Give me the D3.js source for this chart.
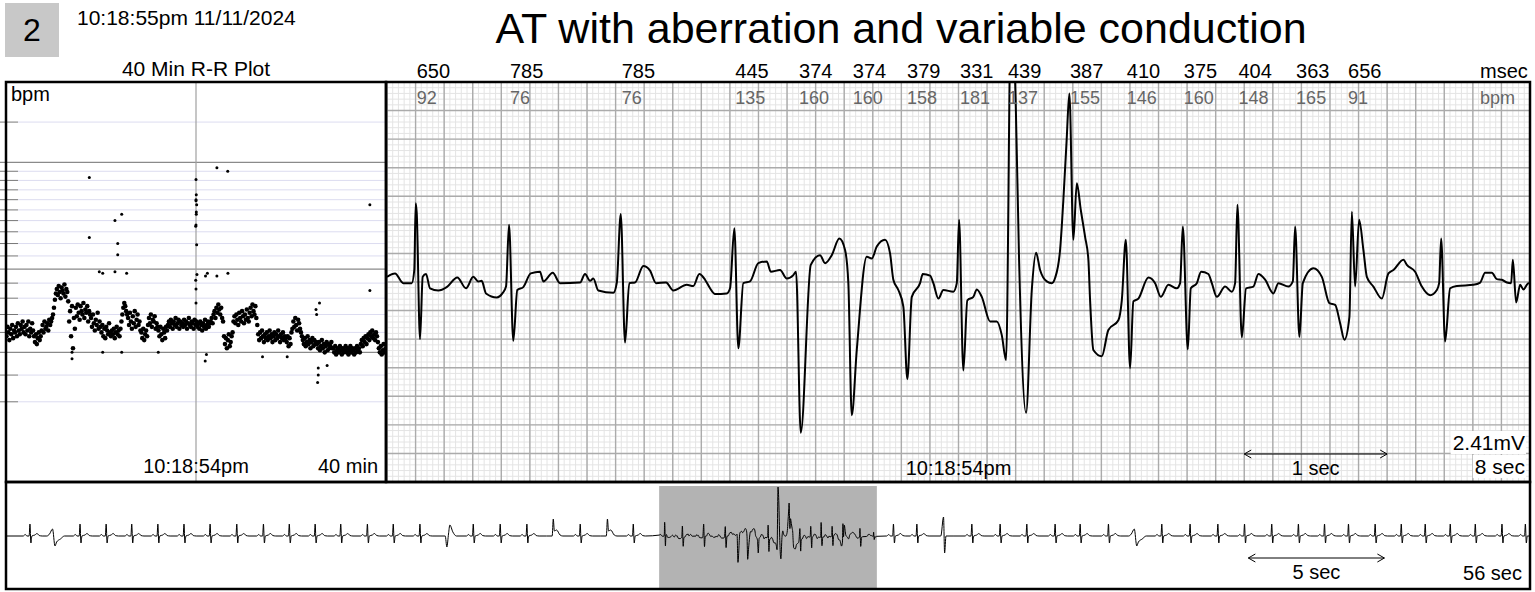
<!DOCTYPE html>
<html lang="en">
<head>
<meta charset="UTF-8">
<title>AT with aberration and variable conduction</title>
<style>
  * {padding:0; margin:0;}
  body {background:#fff;}
  svg {display:block; font-family:"Liberation Sans", Arial, sans-serif;}
  .minor {stroke:#e4e4e4; stroke-width:1px;}
  .major {stroke:#ababab; stroke-width:1.4px;}
  .frame {fill:none; stroke:#000; stroke-width:2.5px;}
  .trace {fill:none; stroke:#000; stroke-width:2px; stroke-linejoin:round;}
  .mini {fill:none; stroke:#000; stroke-width:1px;}
  .lbl {font-size:20px;}
  .bpmLbl {font-size:18px; fill:#666;}
</style>
</head>
<body>
<script src="https://d3js.org/d3.v7.min.js"></script>
<svg id="chart" width="1535" height="592"></svg>
<script>
// ---------- data ----------
var stripNo = "2";
var stampText = "10:18:55pm 11/11/2024";
var titleText = "AT with aberration and variable conduction";

// 8 sec strip: [time ms, amplitude mV]
var ecgTrace = [[0,0.09],[56,0.15],[114,-0.02],[173,-0.02],[191,0.21],[201,1.38],[208,1.21],[231,-1.00],[250,0.09],[273,0.14],
  [301,-0.11],[359,-0.15],[418,-0.09],[492,0.08],[553,-0.11],[604,0.09],[639,0.01],[663,0.02],[693,-0.20],[768,-0.27],
  [810,-0.19],[833,-0.08],[854,1.00],[884,-1.03],[912,-0.14],[954,-0.09],[1006,0.15],[1071,0.18],[1094,0.01],[1160,0.16],
  [1211,-0.02],[1351,-0.01],[1386,0.14],[1421,0.02],[1444,0.06],[1479,-0.15],[1584,-0.19],[1608,-0.02],[1636,1.19],[1666,-1.06],
  [1696,-0.02],[1736,-0.01],[1794,0.28],[1841,0.20],[1883,-0.02],[1953,-0.01],[2004,-0.15],[2098,-0.05],[2144,-0.07],[2186,0.14],
  [2226,0.04],[2261,-0.11],[2296,-0.21],[2378,-0.20],[2401,-0.11],[2431,0.94],[2459,-1.16],[2494,-0.02],[2541,0.01],[2599,0.33],
  [2658,0.36],[2686,0.18],[2751,0.21],[2798,0.06],[2844,0.12],[2863,0.18],[2896,-2.64],[2966,0.30],[3031,0.47],[3066,0.33],
  [3113,0.47],[3166,0.76],[3206,0.56],[3229,-0.02],[3253,-2.33],[3288,-1.19],[3358,0.44],[3393,0.41],[3428,0.62],[3486,0.74],
  [3521,0.50],[3544,0.04],[3579,-0.14],[3614,-0.43],[3642,-1.70],[3673,-0.26],[3731,-0.02],[3750,0.14],[3801,0.11],[3824,-0.02],
  [3859,-0.29],[3894,-0.14],[3964,-0.17],[3988,-0.02],[4004,1.09],[4034,-1.55],[4062,-0.32],[4104,-0.26],[4128,-0.13],[4163,-0.26],
  [4221,-0.69],[4268,-0.69],[4303,-0.93],[4333,-1.37],[4368,4.90],[4400,3.19],[4424,0.39],[4473,-2.29],[4513,-0.14],[4543,0.51],
  [4571,0.21],[4618,0.01],[4653,-0.02],[4676,0.07],[4711,0.56],[4734,1.44],[4757,2.49],[4776,3.30],[4804,0.74],[4828,1.73],
  [4856,1.26],[4886,0.79],[4909,0.39],[4921,-0.32],[4944,-1.19],[5003,-1.30],[5049,-0.84],[5119,-0.67],[5143,-0.32],[5171,0.74],
  [5201,-1.51],[5224,-0.34],[5259,-0.29],[5329,0.08],[5376,-0.02],[5416,-0.26],[5469,-0.05],[5528,-0.11],[5551,-0.02],[5570,0.97],
  [5605,-1.18],[5626,-0.11],[5668,-0.02],[5698,0.18],[5749,0.14],[5773,-0.02],[5808,-0.26],[5866,-0.08],[5913,-0.17],[5936,-0.02],
  [5952,1.35],[5983,-0.97],[6013,-0.11],[6064,-0.08],[6099,0.14],[6146,0.04],[6204,-0.20],[6239,-0.02],[6309,-0.08],[6340,0.01],
  [6356,0.97],[6386,-0.96],[6410,-0.02],[6484,0.24],[6543,0.09],[6596,-0.37],[6636,-0.40],[6671,-0.72],[6701,-1.01],[6736,-0.61],
  [6753,1.23],[6776,-0.08],[6804,1.09],[6834,0.56],[6858,0.09],[6904,-0.08],[6963,-0.29],[7009,0.15],[7044,0.21],[7114,0.39],
  [7138,0.30],[7196,0.18],[7243,-0.08],[7301,-0.23],[7348,-0.14],[7364,-0.02],[7378,0.76],[7406,-1.04],[7441,-0.11],[7488,-0.07],
  [7604,-0.05],[7651,-0.01],[7686,0.16],[7733,0.16],[7768,0.05],[7803,0.04],[7838,-0.01],[7868,-0.02],[7880,0.39],[7903,-0.36],
  [7931,-0.05],[7954,-0.13],[7989,-0.02],[8000,-0.03]];

// beats in the strip (ms) with the R-R interval and rate printed on top
var beatMs = [201, 854, 1636, 2431, 2877, 3253, 3633, 4004, 4339, 4773, 5171, 5570, 5952, 6356, 6720];
var rrMsec = [650, 785, 785, 445, 374, 374, 379, 331, 439, 387, 410, 375, 404, 363, 656];
var rrBpm  = [92, 76, 76, 135, 160, 160, 158, 181, 137, 155, 146, 160, 148, 165, 91];

// 56 sec overview: the 8 sec strip sits at 24 s, the other beats are listed here
var stripStartSec = 24;
var ovBeatSec = [0.88, 1.80, 2.72, 3.68, 4.62, 5.58, 6.54, 7.50, 8.48, 9.46, 10.41, 11.36, 12.30, 13.28, 14.23,
  15.21, 16.20, 17.17, 18.16, 19.14, 20.11, 21.10, 22.10, 23.05,
  32.61, 33.47, 34.45, 35.49, 36.53, 37.51, 38.55, 39.47, 40.51, 41.55, 42.47, 43.51, 44.53, 45.51, 46.51,
  47.49, 48.45, 49.33, 50.31, 51.27, 52.15, 53.07, 53.99, 54.97, 55.83];
var ovBeatKind = ["n","a","n","n","n","n","n","n","n","n","n","n","n","n","n",
  "n","b","n","n","n","t","n","t","n",
  "n","n","g","n","n","n","n","n","n","a","n","n","n","n","n",
  "n","n","n","n","n","n","n","n","n","n"];
// beat shapes seen in the overview: [ms from R, mV]
var beatShapes = {
  n: [[-250,0],[-170,0.15],[-110,0],[-30,0],[0,1.2],[35,-0.7],[70,0],[180,0.1],[260,0.25],[340,0.05],[450,0]],
  t: [[-250,0],[-40,0],[0,1.7],[40,0.5],[120,0.6],[250,0.1],[350,0]],
  a: [[-300,0],[-200,0.2],[-90,0.7],[0,-1.0],[60,-0.6],[200,-0.3],[350,0]],
  b: [[-60,0],[0,-1.1],[60,0.2],[110,1.1],[220,0.4],[350,0]],
  g: [[-100,0],[0,1.9],[40,-1.7],[90,0],[350,0]]
};

// 40 min trend, one rate every 40/len minutes
var trendBpm = [58,63,60,56,62,59,64,57,61,60, 63,58,65,61,59,64,62,66,60,63, 59,64,61,66,58,62,60,65,61,
  58,55,59,54,57,60,56,58, 61,64,60,66,62,63,65,61,67,64,66,68, 70,74,79,83, 86,82,88,84,80,87,85,83,89,81,86,84,
  78,66,72,58,75,52,68,62, 74,69,76,71,67,75,72,70,77,68,73,71,75,66,72,70, 68,63,70,65,61,67,64,71,62,66,63,
  60,64,58,62,57,63,61,59,65,60, 58,61,59,62,57,60,63,59,61,58,62, 66,70,74,77,75,72,70,
  68,64,71,66,62,69,65,72,63,67,70,64,66,61, 60,57,62,56,59,61,58, 64,68,65,70,63,67,66,69,62,65,63,
  61,58,63,59,56,62,60,57,63,61,
  64,66,63,67,65,62,66,64,68,63,65,67,62,66,64,65,63,67,64,66,62,65,68,64,63,66,65,62,67,64,66,
  63,65,62,66,64,61,65,63,67,62,64,66,63,65, 66,68,65,70,72,68,74,71,76,73,70,74,68,66,
  58,54,57,52,56,59,53,55,58,60,
  66,69,65,70,67,64,71,68,66,72,69,65,70,67,73,68,66,71,74,69,76,72,70,75,68,64,
  59,56,60,57,61,58,55,59,57,60,56,58,61,57,59,55,58,60,56,59,57,61,58,55,59,57,60,56,58,57,
  55,58,53,57,54,60, 62,66,63,68,64,61,67,65,62,60,58, 56,54,57,53,55,58,54,56,52,55,57,53,56,54,55,
  54,52,55,51,53,56,52,54,50,53,55,51,54,52,53,55,52,
  52,50,53,49,51,52,50,53,51,49,52,50,51,53,50,52,49,51,53,50,52,51,49,52,50,53,51,52,50,
  54,56,53,57,55,58,54, 57,59,56,60,58,61,57,59,56,60,58,55, 52,50,53,49,51,54,50,52];
// scattered beats off the main band: [minute, bpm]
var trendOutliers = [[8.77,183],[8.77,125],[11.47,140],[12.18,146],[11.76,120],[11.76,111],[9.82,98],[10.18,97],
  [11.47,98],[12.7,97],[22.2,194],[23.34,190],[20.0,181],[20.03,165],[20.0,160],[20.0,159],[20.07,155],[20.03,148],
  [20.03,146],[20.0,136],[19.97,135],[20.07,119],[20.1,96],[21.0,95],[21.2,97],[22.2,95],[23.36,97],[38.3,155],
  [19.97,92],[20.0,86],[20.0,77],[21.1,49],[20.97,46],[38.3,85],[6.95,47],[6.95,50],[16.03,50],[12.18,50],[10.18,50],
  [32.8,37],[32.87,40],[32.87,43],[33.0,77],[32.63,73],[32.7,70],[27.0,48],[29.6,48],[33.8,44]];
var trendLight = [250,190,180,170,160,150,140,130,120,110,90,80,70,60,40,30];
var trendDark = [200,100,50];

// ---------- drawing ----------
var svg = d3.select("#chart");
var defs = svg.append("defs");

// header
svg.append("rect").attr("x",5).attr("y",3).attr("width",54).attr("height",54).attr("fill","#c8c8c8");
svg.append("text").attr("x",32).attr("y",41).attr("text-anchor","middle").style("font-size","32px").text(stripNo);
svg.append("text").attr("x",77).attr("y",25).style("font-size","21px").text(stampText);
svg.append("text").attr("x",901).attr("y",43).attr("text-anchor","middle").style("font-size","43px").text(titleText);
svg.append("text").attr("x",196).attr("y",76).attr("text-anchor","middle").style("font-size","21px").text("40 Min R-R Plot");

// ----- 40 min R-R plot -----
var rrX = d3.scaleLinear().domain([0, 40]).range([6, 386]);
var rrY = d3.scalePow().exponent(0.357).domain([10, 307]).range([482, 82]);

defs.append("clipPath").attr("id","rrClip").append("rect")
  .attr("x",6).attr("y",82).attr("width",380).attr("height",400);

var rr = svg.append("g");
rr.selectAll(".lt").data(trendLight).enter().append("line")
  .attr("x1",18).attr("x2",386).attr("y1",function(d){return rrY(d);}).attr("y2",function(d){return rrY(d);})
  .attr("stroke","#dcdcf0").attr("stroke-width",1);
rr.selectAll(".tk").data(trendLight).enter().append("line")
  .attr("x1",0).attr("x2",18).attr("y1",function(d){return rrY(d);}).attr("y2",function(d){return rrY(d);})
  .attr("stroke","#777").attr("stroke-width",1);
rr.selectAll(".dk").data(trendDark).enter().append("line")
  .attr("x1",0).attr("x2",386).attr("y1",function(d){return rrY(d);}).attr("y2",function(d){return rrY(d);})
  .attr("stroke","#8a8a8a").attr("stroke-width",1.2);
rr.append("line").attr("x1",rrX(20)).attr("x2",rrX(20)).attr("y1",82).attr("y2",482)
  .attr("stroke","#a0a0a0").attr("stroke-width",1.2);

var step = 40 / trendBpm.length;
var dots = rr.append("g").attr("clip-path","url(#rrClip)");
dots.selectAll(".pt").data(trendBpm).enter().append("circle")
  .attr("cx",function(d,i){return rrX(i*step + step/2);})
  .attr("cy",function(d){return rrY(d);})
  .attr("r",2.3).attr("fill","#000");
dots.selectAll(".out").data(trendOutliers).enter().append("circle")
  .attr("cx",function(d){return rrX(d[0]);})
  .attr("cy",function(d){return rrY(d[1]);})
  .attr("r",1.5).attr("fill","#000");

rr.append("text").attr("x",11).attr("y",101).attr("class","lbl").text("bpm");
rr.append("text").attr("x",rrX(20)).attr("y",473).attr("text-anchor","middle").attr("class","lbl").text("10:18:54pm");
rr.append("text").attr("x",378).attr("y",473).attr("text-anchor","end").attr("class","lbl").text("40 min");

// ----- 8 sec strip -----
var xEcg = d3.scaleLinear().domain([0, 8000]).range([387, 1530]);
var yEcg = d3.scaleLinear().domain([-3.5, 3.5]).range([482, 82]);

defs.append("clipPath").attr("id","ecgClip").append("rect")
  .attr("x",387).attr("y",82).attr("width",1143).attr("height",400);

var grid = svg.append("g");
grid.selectAll(".mv").data(d3.range(0, 8001, 40)).enter().append("line").attr("class","minor")
  .attr("x1",function(d){return xEcg(d);}).attr("x2",function(d){return xEcg(d);})
  .attr("y1",82).attr("y2",482);
grid.selectAll(".mh").data(d3.range(-35, 36, 1)).enter().append("line").attr("class","minor")
  .attr("y1",function(d){return yEcg(d/10);}).attr("y2",function(d){return yEcg(d/10);})
  .attr("x1",387).attr("x2",1530);
grid.selectAll(".Mv").data(d3.range(0, 8001, 200)).enter().append("line").attr("class","major")
  .attr("x1",function(d){return xEcg(d);}).attr("x2",function(d){return xEcg(d);})
  .attr("y1",82).attr("y2",482);
grid.selectAll(".Mh").data(d3.range(-35, 36, 5)).enter().append("line").attr("class","major")
  .attr("y1",function(d){return yEcg(d/10);}).attr("y2",function(d){return yEcg(d/10);})
  .attr("x1",387).attr("x2",1530);

var ecgLine = d3.line().curve(d3.curveMonotoneX)
  .x(function(d){return xEcg(d[0]);}).y(function(d){return yEcg(d[1]);});
svg.append("path").datum(ecgTrace).attr("class","trace").attr("clip-path","url(#ecgClip)").attr("d",ecgLine);

// interval labels above each beat
svg.selectAll(".ms").data(rrMsec).enter().append("text").attr("class","lbl")
  .attr("x",function(d,i){return xEcg(beatMs[i]) + 1;}).attr("y",78).text(function(d){return d;});
svg.selectAll(".bp").data(rrBpm).enter().append("text").attr("class","bpmLbl")
  .attr("x",function(d,i){return xEcg(beatMs[i]) + 1;}).attr("y",104).text(function(d){return d;});
svg.append("text").attr("class","lbl").attr("x",1480).attr("y",78).text("msec");
svg.append("text").attr("class","bpmLbl").attr("x",1480).attr("y",104).text("bpm");

svg.append("text").attr("class","lbl").attr("x",xEcg(4000)).attr("y",475).attr("text-anchor","middle").text("10:18:54pm");

function arrow(x1, x2, y) {
  return "M" + x1 + "," + y + "L" + x2 + "," + y +
    "M" + (x1 + 7) + "," + (y - 4) + "L" + x1 + "," + y + "L" + (x1 + 7) + "," + (y + 4) +
    "M" + (x2 - 7) + "," + (y - 4) + "L" + x2 + "," + y + "L" + (x2 - 7) + "," + (y + 4);
}
svg.append("path").attr("class","mini").attr("d",arrow(xEcg(6000), xEcg(7000), 454));
svg.append("text").attr("class","lbl").attr("x",xEcg(6500)).attr("y",475).attr("text-anchor","middle").text("1 sec");

// gain and width, on white
[["2.41mV",450],["8 sec",474]].forEach(function(d){
  var t = svg.append("text").attr("x",1525).attr("y",d[1]).attr("text-anchor","end")
    .style("font-size","21px").text(d[0]);
  var b = t.node().getBBox();
  svg.insert("rect", function(){return t.node();})
    .attr("x",b.x - 2).attr("y",b.y).attr("width",b.width + 3).attr("height",b.height).attr("fill","#fff");
});

// ----- 56 sec overview -----
var ovX = d3.scaleLinear().domain([0, 56000]).range([6, 1530]);
var ovY = d3.scaleLinear().domain([-5.3, 5.4]).range([589, 482]);

defs.append("clipPath").attr("id","ovClip").append("rect")
  .attr("x",6).attr("y",483).attr("width",1524).attr("height",105);

svg.append("rect").attr("x",ovX(stripStartSec*1000)).attr("y",486)
  .attr("width",ovX((stripStartSec+8)*1000) - ovX(stripStartSec*1000)).attr("height",102)
  .attr("fill","#b3b3b3");

var ovPts = [[0,0],[56000,0]];
ovBeatSec.forEach(function(s, i){
  beatShapes[ovBeatKind[i]].forEach(function(p){ ovPts.push([s*1000 + p[0], p[1]]); });
});
ecgTrace.forEach(function(p){ ovPts.push([stripStartSec*1000 + p[0], p[1]]); });
ovPts.sort(function(a, b){ return a[0] - b[0]; });

var ovLine = d3.line().curve(d3.curveMonotoneX)
  .x(function(d){return ovX(d[0]);}).y(function(d){return ovY(d[1]);});
svg.append("path").datum(ovPts).attr("class","mini").attr("clip-path","url(#ovClip)").attr("d",ovLine);

svg.append("path").attr("class","mini").attr("d",arrow(ovX(45650), ovX(50650), 558));
svg.append("text").attr("class","lbl").attr("x",ovX(48150)).attr("y",579).attr("text-anchor","middle").text("5 sec");
svg.append("text").attr("class","lbl").attr("x",1522).attr("y",580).attr("text-anchor","end").text("56 sec");

// frames on top
svg.append("rect").attr("class","frame").attr("x",6).attr("y",82).attr("width",380).attr("height",400);
svg.append("rect").attr("class","frame").attr("x",386).attr("y",82).attr("width",1144).attr("height",400);
svg.append("rect").attr("class","frame").attr("x",6).attr("y",482).attr("width",1524).attr("height",107);
</script>
</body>
</html>
